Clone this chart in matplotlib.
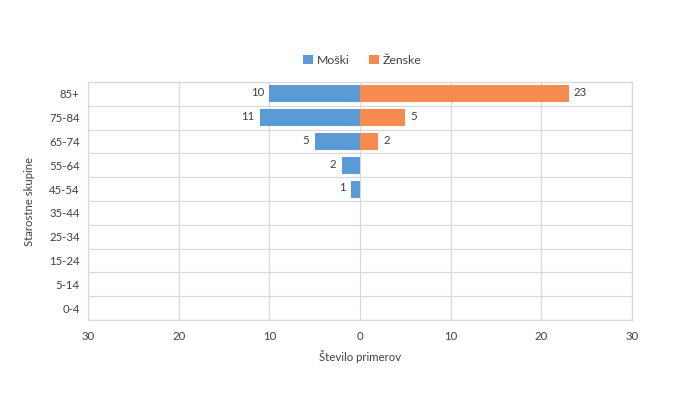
import matplotlib
matplotlib.use("Agg")
import matplotlib.pyplot as plt
import numpy as np

categories = ["0-4", "5-14", "15-24", "25-34", "35-44", "45-54", "55-64", "65-74", "75-84", "85+"]
moski = [0, 0, 0, 0, 0, 1, 2, 5, 11, 10]
zenske = [0, 0, 0, 0, 0, 0, 0, 2, 5, 23]
xticks = [-30, -20, -10, 0, 10, 20, 30]
xticklabels = ["30", "20", "10", "0", "10", "20", "30"]

plt.rcParams['font.family'] = ['Lato', 'DejaVu Sans']
txt = "#404040"
blue = "#5B9BD5"
orange = "#F58B4F"
grid = "#D9D9D9"
fs = 8.2

fig = plt.figure(figsize=(6.91, 3.94), dpi=100)
ax = fig.add_axes([88/691, 1 - 320/394, (632-88)/691, (320-82)/394])

y = np.arange(len(categories))
m = np.array(moski)
z = np.array(zenske)
ax.barh(y, -m, height=0.72, color=blue, label="Moški", zorder=3)
ax.barh(y, z, height=0.72, color=orange, label="Ženske", zorder=3)

for yi, v in zip(y, m):
    if v > 0:
        ax.text(-v - 0.6, yi + 0.05, str(v), ha="right", va="center", fontsize=fs, color=txt)
for yi, v in zip(y, z):
    if v > 0:
        ax.text(v + 0.6, yi + 0.05, str(v), ha="left", va="center", fontsize=fs, color=txt)

ax.set_xlim(-30, 30)
ax.set_ylim(-0.5, len(categories) - 0.5)
ax.set_xticks(xticks)
ax.set_xticklabels(xticklabels)
ax.set_yticks(y)
ax.set_yticklabels(categories)
ax.set_yticks(np.arange(-0.5, len(categories), 1.0), minor=True)
ax.grid(True, axis="x", color=grid, linewidth=0.9, zorder=0)
ax.grid(True, axis="y", which="minor", color=grid, linewidth=0.9, zorder=0)
ax.grid(False, axis="y", which="major")
ax.tick_params(axis="both", which="both", length=0, colors=txt, labelsize=fs)
ax.tick_params(axis="x", pad=8)
ax.tick_params(axis="y", pad=6)
for s in ax.spines.values():
    s.set_color(grid)
    s.set_linewidth(0.9)

ax.set_xlabel("Število primerov", fontsize=fs, color=txt, labelpad=6)
ax.set_ylabel("Starostne skupine", fontsize=fs, color=txt, labelpad=10)

leg = fig.legend(loc="center", bbox_to_anchor=(362/691, 1 - 60/394), ncol=2, frameon=False,
                 fontsize=8.8, handlelength=0.8, handleheight=0.8, handletextpad=0.3,
                 columnspacing=1.6)
for t in leg.get_texts():
    t.set_color(txt)

fig.savefig("out.png", dpi=100, facecolor="white")
